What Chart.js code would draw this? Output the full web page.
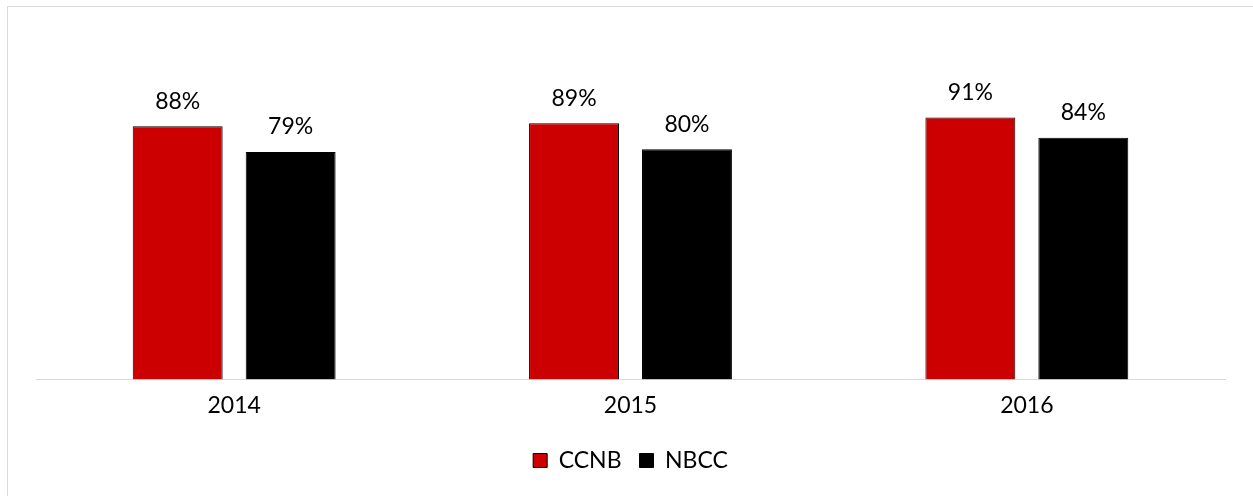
<!DOCTYPE html>
<html>
<head>
<meta charset="utf-8">
<script src="https://cdn.jsdelivr.net/npm/chart.js@4"></script>
<style>
  html, body { margin: 0; padding: 0; background: #fff; overflow: hidden; }
  #frame { position: absolute; left: 7px; top: 6px; width: 1300px; height: 560px; border: 1px solid #d9d9d9; }
  #wrap { position: absolute; left: 0; top: 0; width: 1253px; height: 496px; }
</style>
</head>
<body>
<div id="frame"></div>
<div id="wrap"><canvas id="c"></canvas></div>
<script>
// data
const years = ['2014', '2015', '2016'];
const ccnb = [88, 89, 91];
const nbcc = [79, 80, 84];

const FONT = 'Lato, "Open Sans", sans-serif';

// labels above bars (no datalabels plugin available)
const valueLabels = {
  id: 'valueLabels',
  afterDatasetsDraw(chart) {
    const ctx = chart.ctx;
    ctx.save();
    ctx.font = '23px ' + FONT;
    ctx.fillStyle = '#000';
    ctx.textAlign = 'center';
    ctx.textBaseline = 'middle';
    chart.data.datasets.forEach((ds, i) => {
      chart.getDatasetMeta(i).data.forEach((bar, j) => {
        ctx.fillText(ds.data[j] + '%', bar.x, bar.y - 25);
      });
    });
    ctx.restore();
  },
};

new Chart(document.getElementById('c'), {
  type: 'bar',
  data: {
    labels: years,
    datasets: [
      { label: 'CCNB', data: ccnb, backgroundColor: '#cc0000', borderColor: '#000', borderWidth: 1 },
      { label: 'NBCC', data: nbcc, backgroundColor: '#000', borderColor: '#000', borderWidth: 1 },
    ],
  },
  options: {
    responsive: true,
    maintainAspectRatio: false,
    animation: false,
    categoryPercentage: 0.57,
    barPercentage: 0.796,
    layout: { padding: { left: 36, right: 28, top: 91.6, bottom: 14 } },
    plugins: {
      tooltip: { enabled: false },
      legend: {
        display: true,
        position: 'bottom',
        labels: {
          color: '#000',
          boxWidth: 14,
          boxHeight: 14,
          padding: 18,
          font: { family: FONT, size: 23 },
        },
      },
    },
    scales: {
      x: {
        grid: { display: false, drawTicks: false },
        border: { display: true, color: '#d9d9d9', width: 1 },
        ticks: { color: '#000', padding: 12, font: { family: FONT, size: 23 } },
      },
      y: { display: false, min: 0, max: 100 },
    },
  },
  plugins: [valueLabels],
});
</script>
</body>
</html>
